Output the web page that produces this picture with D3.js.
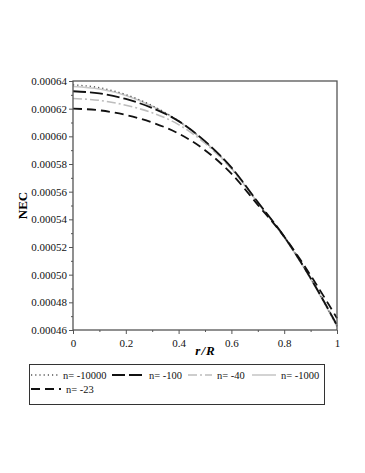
<!DOCTYPE html>
<html>
<head>
<meta charset="utf-8">
<script src="https://cdn.jsdelivr.net/npm/d3@7"></script>
<style>
  body { margin: 0; background: #fff; }
  svg text { font-family: "Liberation Serif", "Times New Roman", Times, "Nimbus Roman", "DejaVu Serif", serif !important; }
</style>
</head>
<body>
<div id="chart"></div>
<script>
// r/R sample points
var rr = [0, 0.1, 0.2, 0.3, 0.4, 0.5, 0.6, 0.7, 0.8, 0.9, 1];

// NEC values, one list per n
var necN10000 = [0.0006372, 0.0006352, 0.0006302, 0.0006222, 0.0006112, 0.0005962, 0.0005772, 0.0005522, 0.0005272, 0.0004972, 0.0004628];
var necN1000  = [0.0006360, 0.0006342, 0.0006296, 0.0006218, 0.0006110, 0.0005960, 0.0005770, 0.0005520, 0.0005270, 0.0004970, 0.0004625];
var necN100   = [0.0006326, 0.0006310, 0.0006270, 0.0006205, 0.0006110, 0.0005965, 0.0005775, 0.0005525, 0.0005275, 0.0004975, 0.0004635];
var necN40    = [0.0006273, 0.0006260, 0.0006225, 0.0006170, 0.0006085, 0.0005950, 0.0005765, 0.0005520, 0.0005275, 0.0004978, 0.0004637];
var necN23    = [0.0006200, 0.0006188, 0.0006155, 0.0006100, 0.0006020, 0.0005900, 0.0005730, 0.0005505, 0.0005275, 0.0004995, 0.0004685];

var legendLabels = ["n= -10000", "n= -100", "n= -40", "n= -1000", "n= -23"];
var yTicks = [0.00046, 0.00048, 0.0005, 0.00052, 0.00054, 0.00056, 0.00058, 0.0006, 0.00062, 0.00064];
var xTicks = [0, 0.2, 0.4, 0.6, 0.8, 1];

var series = [
  {label: legendLabels[3], values: necN1000,  color: "#c8c8c8", width: 1.6, dash: null},
  {label: legendLabels[2], values: necN40,    color: "#bdbdbd", width: 1.6, dash: "9,3,2,3"},
  {label: legendLabels[0], values: necN10000, color: "#555",    width: 1.3, dash: "1.2,3"},
  {label: legendLabels[1], values: necN100,   color: "#111",    width: 1.8, dash: "13,4"},
  {label: legendLabels[4], values: necN23,    color: "#111",    width: 1.8, dash: "9,5"}
];

var margin = {top: 81, left: 73},
    width = 264,
    height = 249;

var svg = d3.select("#chart").append("svg")
  .attr("width", 365)
  .attr("height", 473);

var x = d3.scaleLinear().domain([0, 1]).range([0, width]),
    y = d3.scaleLinear().domain([0.00046, 0.00064]).range([height, 0]);

var g = svg.append("g")
  .attr("transform", "translate(" + margin.left + "," + margin.top + ")");

/* minor ticks first, then the labelled ones */
g.append("g")
  .attr("transform", "translate(0," + height + ")")
  .call(d3.axisBottom(x).tickValues(d3.range(0.1, 1, 0.2)).tickSize(2).tickFormat(""))
  .call(function(s) { s.select(".domain").remove(); s.selectAll("line").attr("stroke", "#555"); });

g.append("g")
  .call(d3.axisLeft(y).tickValues(d3.range(0.00047, 0.00064, 0.00002)).tickSize(2).tickFormat(""))
  .call(function(s) { s.select(".domain").remove(); s.selectAll("line").attr("stroke", "#555"); });

var gX = g.append("g")
  .attr("transform", "translate(0," + height + ")")
  .call(d3.axisBottom(x).tickValues(xTicks).tickSize(4).tickPadding(5)
    .tickFormat(function(d) { return d === 0 || d === 1 ? d : d3.format(".1f")(d); }));

var gY = g.append("g")
  .call(d3.axisLeft(y).tickValues(yTicks).tickSize(4).tickPadding(2)
    .tickFormat(d3.format(".5f")));

[gX, gY].forEach(function(a) {
  a.select(".domain").remove();
  a.selectAll("line").attr("stroke", "#555");
  a.selectAll("text")
    .attr("fill", "#111")
    .style("font-size", "11px");
});

var line = d3.line()
  .x(function(d, i) { return x(rr[i]); })
  .y(function(d) { return y(d); })
  .curve(d3.curveMonotoneX);

series.forEach(function(s) {
  g.append("path")
    .datum(s.values)
    .attr("fill", "none")
    .attr("stroke", s.color)
    .attr("stroke-width", s.width)
    .attr("stroke-dasharray", s.dash)
    .attr("d", line);
});

// plot frame
g.append("rect")
  .attr("width", width)
  .attr("height", height)
  .attr("fill", "none")
  .attr("stroke", "#555")
  .attr("stroke-width", 1.3);

svg.append("text")
  .attr("transform", "translate(27," + (margin.top + height / 2) + ") rotate(-90)")
  .attr("text-anchor", "middle")
  .style("font-size", "13px")
  .style("font-weight", "bold")
  .text("NEC");

var xl = svg.append("text")
  .attr("x", margin.left + width / 2)
  .attr("y", 355)
  .attr("text-anchor", "middle")
  .style("font-size", "13px")
  .style("font-weight", "bold")
  .style("font-style", "italic");
xl.append("tspan").text("r");
xl.append("tspan").attr("dx", 1).text("/");
xl.append("tspan").attr("dx", 1).text("R");

/* legend box with fixed slots: [sample start, sample end, row] */
var slots = [[31, 58, 0], [112, 144, 0], [188, 212, 0], [252, 276, 0], [31, 61, 1]];
var order = [2, 3, 1, 0, 4];

var lg = svg.append("g");
lg.append("rect")
  .attr("x", 29.5).attr("y", 364.5)
  .attr("width", 295).attr("height", 40)
  .attr("fill", "none")
  .attr("stroke", "#333")
  .attr("stroke-width", 1);

order.forEach(function(k, i) {
  var s = series[k], sl = slots[i],
      ly = 375 + sl[2] * 14;
  lg.append("line")
    .attr("x1", sl[0]).attr("x2", sl[1])
    .attr("y1", ly).attr("y2", ly)
    .attr("stroke", s.color)
    .attr("stroke-width", s.width)
    .attr("stroke-dasharray", s.dash);
  lg.append("text")
    .attr("x", sl[1] + 5)
    .attr("y", ly + 4)
    .style("font-size", "10.5px")
    .attr("fill", "#111")
    .text(s.label);
});
</script>
</body>
</html>
